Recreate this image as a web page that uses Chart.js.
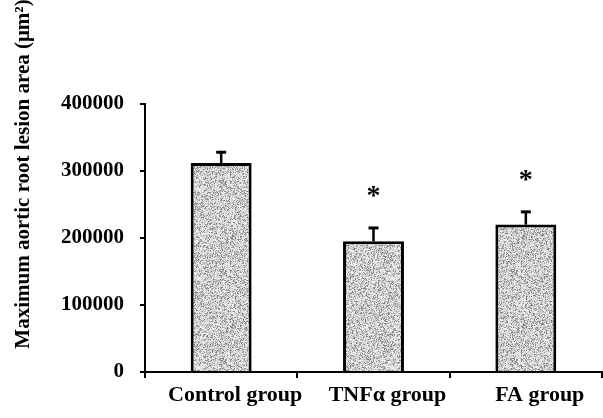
<!DOCTYPE html>
<html>
<head>
<meta charset="utf-8">
<script src="https://cdn.jsdelivr.net/npm/chart.js@4"></script>
<style>
  html, body { margin: 0; padding: 0; background: #fff; }
</style>
</head>
<body>
<canvas id="chart" width="603" height="418"></canvas>
<script>
const groups = ['Control group', 'TNF\u03b1 group', 'FA group'];
const lesionArea = [312000, 195000, 220000];
const lesionErr = [16000, 20000, 19000];
const significant = [false, true, true];
const yTicks = [0, 100000, 200000, 300000, 400000];

const FONT = '"Liberation Serif", "Times New Roman", serif';

// stippled grey fill like the scanned figure
function makeStipple() {
  const c = document.createElement('canvas');
  c.width = 97; c.height = 89;
  const g = c.getContext('2d');
  const img = g.createImageData(97, 89);
  let seed = 98765;
  const rnd = () => { seed = (seed * 1103515245 + 12345) % 2147483648; return seed / 2147483648; };
  for (let i = 0; i < 97 * 89; i++) {
    const r = rnd();
    const v = r < 0.25 ? 120 + rnd() * 50 : 190 + rnd() * 60;
    img.data[i * 4] = v; img.data[i * 4 + 1] = v; img.data[i * 4 + 2] = v; img.data[i * 4 + 3] = 255;
  }
  g.putImageData(img, 0, 0);
  return document.getElementById('chart').getContext('2d').createPattern(c, 'repeat');
}

const errorBars = {
  id: 'errorBars',
  afterDatasetsDraw(chart) {
    const ctx = chart.ctx;
    const y = chart.scales.y;
    const meta = chart.getDatasetMeta(0);
    ctx.save();
    ctx.strokeStyle = '#000';
    ctx.fillStyle = '#000';
    meta.data.forEach((bar, i) => {
      const base = y.getPixelForValue(lesionArea[i]);
      const top = y.getPixelForValue(lesionArea[i] + lesionErr[i]);
      ctx.lineWidth = 2.5;
      ctx.beginPath();
      ctx.moveTo(bar.x, base);
      ctx.lineTo(bar.x, top);
      ctx.stroke();
      ctx.lineWidth = 3;
      ctx.beginPath();
      ctx.moveTo(bar.x - 5, top);
      ctx.lineTo(bar.x + 5, top);
      ctx.stroke();
      if (significant[i]) {
        ctx.font = 'bold 28px ' + FONT;
        ctx.textAlign = 'center';
        ctx.textBaseline = 'middle';
        ctx.fillText('*', bar.x, top - 31);
      }
    });
    ctx.restore();
  }
};

const yTitle = {
  id: 'yTitle',
  afterDraw(chart) {
    const ctx = chart.ctx;
    ctx.save();
    ctx.translate(24, 174);
    ctx.rotate(-Math.PI / 2);
    ctx.font = 'bold 21px ' + FONT;
    ctx.fillStyle = '#000';
    ctx.textAlign = 'center';
    ctx.textBaseline = 'middle';
    ctx.fillText('Maximum aortic root lesion area (\u03bcm\u00b2)', 0, 0);
    ctx.restore();
  }
};

const ctx = document.getElementById('chart').getContext('2d');
const chart = new Chart(ctx, {
  type: 'bar',
  data: {
    labels: groups,
    datasets: [{
      data: lesionArea,
      backgroundColor: makeStipple(),
      borderColor: '#000',
      borderWidth: 3,
      categoryPercentage: 1,
      barPercentage: 0.4
    }]
  },
  plugins: [errorBars, yTitle],
  options: {
    responsive: false,
    animation: false,
    devicePixelRatio: 1,
    layout: { padding: { left: 0, top: 104, right: 1, bottom: 0 } },
    plugins: { legend: { display: false }, tooltip: { enabled: false } },
    scales: {
      y: {
        min: 0,
        max: 400000,
        afterBuildTicks: (s) => { s.ticks = yTicks.map(v => ({ value: v })); },
        afterFit: (s) => { s.width = 145; },
        ticks: {
          color: '#000',
          font: { family: FONT, size: 21, weight: 'bold' },
          padding: 16,
          callback: (v) => String(v)
        },
        grid: { drawOnChartArea: false, color: '#000', lineWidth: 2, tickLength: 5 },
        border: { color: '#000', width: 2 }
      },
      x: {
        afterFit: (s) => { s.height = 46; },
        ticks: {
          color: '#000',
          font: { family: FONT, size: 22, weight: 'bold' },
          labelOffset: 14,
          padding: 4
        },
        grid: { offset: true, drawOnChartArea: false, color: '#000', lineWidth: 2, tickLength: 6 },
        border: { color: '#000', width: 2 }
      }
    }
  }
});
</script>
</body>
</html>
